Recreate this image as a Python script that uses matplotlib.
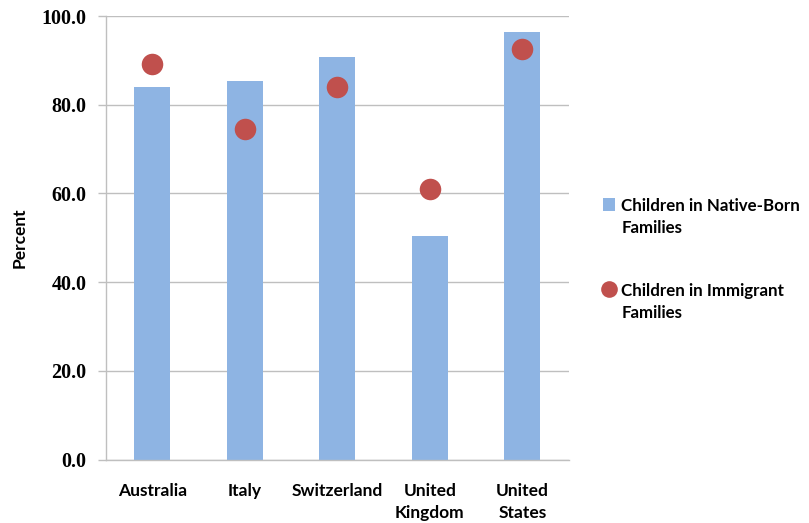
import matplotlib
matplotlib.use("Agg")
import matplotlib.pyplot as plt
from matplotlib.lines import Line2D
from matplotlib.patches import Patch
import numpy as np

countries = ["Australia", "Italy", "Switzerland", "United\nKingdom", "United\nStates"]
native_born = [84.1, 85.4, 90.8, 50.4, 96.4]
immigrant = [89.1, 74.5, 84.0, 61.0, 92.6]
yticks = [0, 20, 40, 60, 80, 100]

bar_color = "#8EB4E3"
dot_color = "#C0504D"
grid_color = "#BFBFBF"
sans = ["Lato", "DejaVu Sans"]
serif = ["Liberation Serif", "DejaVu Serif"]

fig = plt.figure(figsize=(8.09, 5.23), dpi=100)
ax = fig.add_axes([0.131, 0.1214, 0.572, 0.848])

x = np.arange(len(countries))
ax.bar(x, native_born, width=0.39, color=bar_color, zorder=2)
ax.plot(x, immigrant, linestyle="none", marker="o", markersize=15.5,
        color=dot_color, markeredgewidth=0, zorder=3)

ax.set_xlim(-0.5, len(countries) - 0.5)
ax.set_ylim(0, 100)
ax.set_yticks(yticks)
ax.set_yticklabels([f"{v:.1f}" for v in yticks], fontfamily=serif,
                   fontweight="bold", fontsize=14.5)
ax.yaxis.grid(True, color=grid_color, linewidth=1, zorder=0)
ax.set_axisbelow(True)
ax.set_xticks(x)
ax.set_xticklabels(countries, fontfamily=sans, fontweight="bold", fontsize=12.5,
                   linespacing=1.45, va="top")
ax.tick_params(axis="x", length=0, pad=17)
ax.tick_params(axis="y", length=6, width=1, color=grid_color, pad=8)

for side in ("top", "right"):
    ax.spines[side].set_visible(False)
for side in ("left", "bottom"):
    ax.spines[side].set_color(grid_color)
    ax.spines[side].set_linewidth(1)

ax.set_ylabel("Percent", fontfamily=sans, fontweight="bold", fontsize=12.5,
              labelpad=10)

handles = [
    Patch(facecolor=bar_color, edgecolor="none"),
    Line2D([], [], linestyle="none", marker="o", markersize=12,
           color=dot_color, markeredgewidth=0),
]
labels = ["Children in Native-Born\nFamilies", "Children in Immigrant\nFamilies"]
leg = fig.legend(handles, labels, loc="upper left", bbox_to_anchor=(0.726, 0.65),
                 frameon=False, prop={"family": sans, "weight": "bold", "size": 12.2},
                 handlelength=0.75, handleheight=0.75, handletextpad=0.35,
                 labelspacing=2.75)
for t in leg.get_texts():
    t.set_linespacing(1.45)
# line each key up with the first line of its two-line label
for column in leg._legend_handle_box.get_children():
    for item in column.get_children():
        item.align = "top"

fig.savefig("out.png", dpi=100)
